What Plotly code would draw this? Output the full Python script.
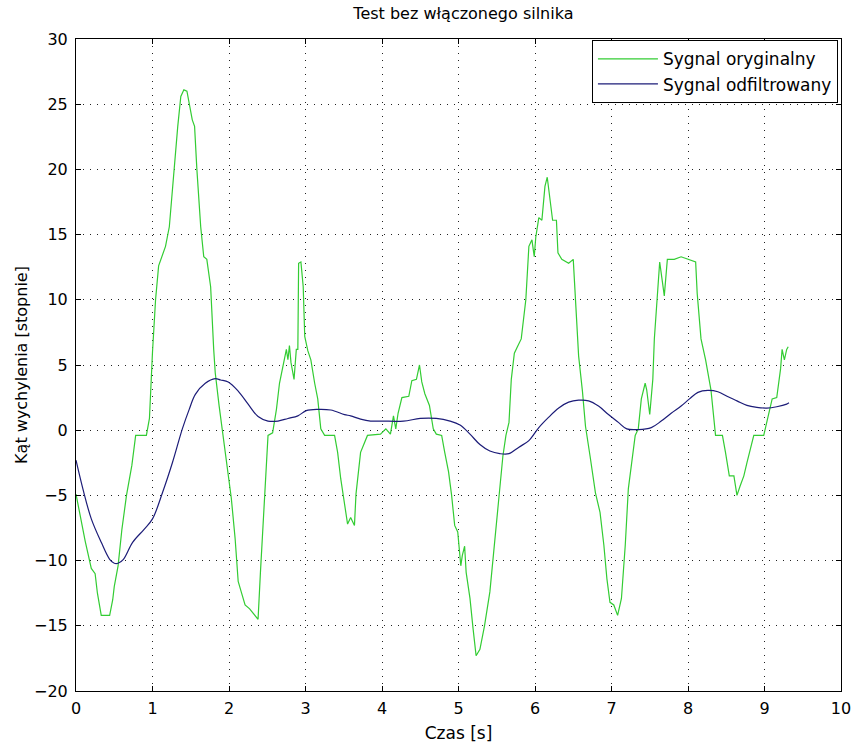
import plotly.graph_objects as go

# Original signal (green)
green_t = [0, 0.05, 0.12, 0.2, 0.25, 0.28, 0.33, 0.44, 0.48, 0.5, 0.55, 0.6, 0.66, 0.73, 0.78, 0.92, 0.96,
           1.0, 1.04, 1.08, 1.17, 1.22, 1.28, 1.33, 1.37, 1.41, 1.45, 1.49, 1.52, 1.55, 1.58, 1.63, 1.67, 1.71,
           1.76, 1.80, 1.82, 1.87, 1.93, 1.99, 2.03, 2.08, 2.12, 2.16, 2.21, 2.27, 2.34, 2.38, 2.41, 2.45, 2.49,
           2.51, 2.57, 2.62, 2.66, 2.71, 2.75, 2.77, 2.79, 2.81, 2.85, 2.88, 2.90, 2.91, 2.94, 2.97, 2.99, 3.03,
           3.07, 3.12, 3.16, 3.20, 3.25, 3.38, 3.42, 3.46, 3.51, 3.55, 3.59, 3.64, 3.66, 3.72, 3.81, 3.98, 4.05,
           4.11, 4.15, 4.18, 4.21, 4.26, 4.35, 4.39, 4.45, 4.49, 4.52, 4.56, 4.62, 4.67, 4.71, 4.78, 4.82, 4.87,
           4.91, 4.95, 4.99, 5.03, 5.05, 5.08, 5.10, 5.15, 5.19, 5.23, 5.28, 5.34, 5.41, 5.47, 5.54, 5.58, 5.62,
           5.66, 5.69, 5.73, 5.77, 5.82, 5.88, 5.92, 5.96, 5.99, 6.01, 6.05, 6.09, 6.13, 6.16, 6.19, 6.23, 6.28,
           6.30, 6.35, 6.44, 6.50, 6.53, 6.57, 6.62, 6.66, 6.72, 6.79, 6.85, 6.90, 6.94, 6.98, 7.03, 7.08, 7.13,
           7.18, 7.22, 7.26, 7.31, 7.35, 7.39, 7.44, 7.46, 7.50, 7.54, 7.56, 7.59, 7.63, 7.66, 7.69, 7.73, 7.82,
           7.91, 8.0, 8.10, 8.12, 8.17, 8.23, 8.30, 8.36, 8.45, 8.49, 8.54, 8.60, 8.64, 8.68, 8.73, 8.77, 8.81,
           8.86, 8.99, 9.03, 9.10, 9.16, 9.21, 9.23, 9.26, 9.29, 9.31]
green_y = [-4.9, -6.5, -8.5, -10.6, -11.0, -12.5, -14.2, -14.2, -13.0, -12.0, -10.4, -7.6, -5.0, -2.7, -0.4, -0.4, 0.9,
           6.0, 10.0, 12.6, 14.1, 15.6, 20.2, 23.3, 25.6, 26.1, 26.0, 24.8, 23.8, 23.3, 20.0, 15.6, 13.3, 13.1,
           11.0, 6.2, 4.4, 1.9, -0.7, -3.2, -5.2, -8.3, -11.6, -12.4, -13.4, -13.7, -14.2, -14.5, -11.0, -6.3, -2.0,
           -0.4, -0.2, 1.6, 3.6, 4.9, 6.2, 5.4, 6.5, 5.2, 3.9, 6.2, 6.2, 12.8, 12.9, 11.0, 7.2, 6.1,
           5.4, 3.6, 2.4, 0.1, -0.4, -0.4, -1.7, -3.7, -5.8, -7.2, -6.7, -7.3, -4.9, -1.7, -0.4, -0.3, 0.1,
           -0.3, 1.1, 0.1, 1.3, 2.5, 2.6, 3.8, 3.9, 5.0, 3.7, 2.8, 1.9, 0.1, -0.3, -0.4, -1.7, -3.2,
           -5.0, -7.3, -7.8, -10.4, -9.6, -8.9, -10.9, -12.9, -15.2, -17.3, -16.8, -15.0, -12.4, -8.8, -4.8, -2.0, -0.4,
           0.6, 3.9, 5.9, 6.4, 7.0, 10.0, 14.1, 14.6, 13.3, 14.8, 16.3, 16.1, 18.7, 19.4, 17.9, 16.1, 16.1,
           13.6, 13.1, 12.8, 13.1, 9.8, 5.7, 3.0, 0.3, -2.0, -4.8, -6.3, -8.8, -11.4, -13.2, -13.4, -14.2, -12.9,
           -8.8, -4.5, -2.7, -0.4, 0.1, 2.4, 3.6, 3.1, 1.2, 3.9, 7.0, 9.8, 12.9, 11.6, 10.3, 13.1, 13.1,
           13.3, 13.1, 12.9, 10.5, 7.0, 5.4, 3.1, -0.4, -0.4, -1.7, -3.5, -3.5, -5.0, -4.3, -3.5, -2.5, -1.5,
           -0.4, -0.4, 0.6, 2.4, 2.5, 4.7, 6.2, 5.4, 6.2, 6.4]

# Filtered signal (blue)
blue_t = [0, 0.09, 0.2, 0.33, 0.44, 0.5, 0.55, 0.62, 0.74, 0.89, 1.0, 1.13, 1.26, 1.39, 1.48, 1.56, 1.69, 1.82,
          1.89, 1.99, 2.12, 2.25, 2.38, 2.51, 2.64, 2.77, 2.90, 3.01, 3.16, 3.33, 3.51, 3.59, 3.72, 3.85, 4.0,
          4.28, 4.50, 4.71, 4.89, 5.02, 5.15, 5.28, 5.41, 5.54, 5.66, 5.79, 5.92, 6.05, 6.18, 6.31, 6.44, 6.57,
          6.70, 6.83, 6.96, 7.09, 7.20, 7.35, 7.52, 7.65, 7.78, 7.91, 8.02, 8.13, 8.26, 8.39, 8.51, 8.64, 8.77,
          8.90, 9.03, 9.16, 9.29, 9.32]
blue_y = [-2.3, -4.5, -6.8, -8.6, -9.9, -10.2, -10.2, -9.9, -8.6, -7.6, -6.8, -4.8, -2.5, 0.1, 1.6, 2.75, 3.6, 3.95,
          3.85, 3.7, 3.0, 2.0, 1.05, 0.7, 0.7, 0.9, 1.1, 1.5, 1.6, 1.55, 1.2, 1.1, 0.85, 0.7, 0.7,
          0.7, 0.9, 0.9, 0.7, 0.4, -0.3, -1.1, -1.6, -1.8, -1.8, -1.3, -0.8, 0.2, 1.0, 1.7, 2.15, 2.3,
          2.25, 1.85, 1.2, 0.6, 0.1, 0.05, 0.2, 0.7, 1.3, 1.85, 2.4, 2.9, 3.05, 2.95, 2.6, 2.25, 1.9,
          1.75, 1.7, 1.8, 2.0, 2.1]

x_ticks = list(range(0, 11))
y_ticks = list(range(-20, 31, 5))

FONT = "DejaVu Sans"

fig = go.Figure()
fig.add_trace(go.Scatter(x=green_t, y=green_y, mode="lines", name="Sygnal oryginalny",
                         line=dict(color="#33cc33", width=1.2)))
fig.add_trace(go.Scatter(x=blue_t, y=blue_y, mode="lines", name="Sygnal odfiltrowany",
                         line=dict(color="#1c1c78", width=1.2, shape="spline")))

axis_common = dict(
    showline=True, linecolor="black", linewidth=1, mirror="ticks",
    ticks="inside", ticklen=5, tickcolor="black",
    showgrid=True, gridcolor="#222222", griddash="1px,6px", gridwidth=1,
    zeroline=False, tickfont=dict(family=FONT, size=16, color="black"),
)

fig.update_layout(
    width=863, height=751,
    margin=dict(l=76, r=12, t=39, b=58),
    paper_bgcolor="white", plot_bgcolor="white",
    font=dict(family=FONT, size=16, color="black"),
    title=dict(text="Test bez włączonego silnika", x=0.537, xanchor="center",
               y=1 - 13 / 751, yanchor="middle", font=dict(family=FONT, size=16, color="black")),
    xaxis=dict(range=[0, 10], tickvals=x_ticks, ticklabelstandoff=3,
               title=dict(text="Czas [s]", standoff=9, font=dict(family=FONT, size=17)), **axis_common),
    yaxis=dict(range=[-20, 30], tickvals=y_ticks, ticklabelstandoff=4,
               title=dict(text="Kąt wychylenia [stopnie]", standoff=2, font=dict(family=FONT, size=16)),
               **axis_common),
    legend=dict(x=0.996, y=0.998, xanchor="right", yanchor="top",
                bgcolor="white", bordercolor="black", borderwidth=1,
                font=dict(family=FONT, size=17, color="black"),
                itemwidth=60, tracegroupgap=0),
    showlegend=True,
)

fig.write_html("out.html")
